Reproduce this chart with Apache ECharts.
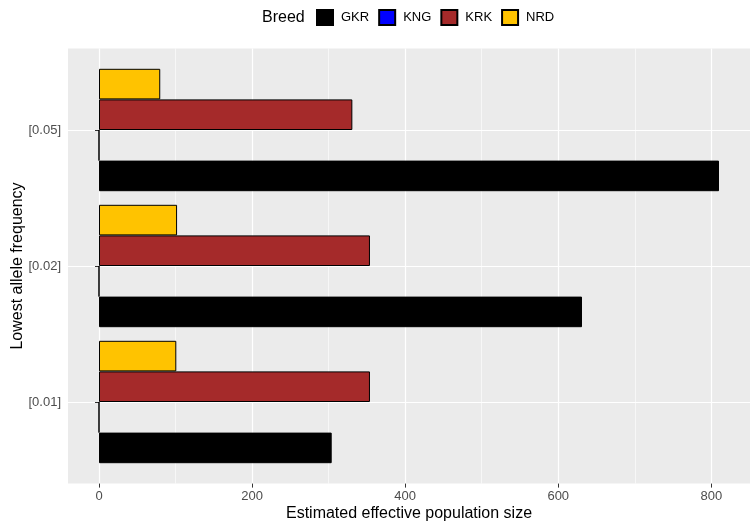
<!DOCTYPE html>
<html><head><meta charset="utf-8">
<script src="https://cdn.jsdelivr.net/npm/echarts@6/dist/echarts.min.js"></script>
<style>html,body{margin:0;padding:0;background:#fff}#c{width:750px;height:527px}</style>
</head><body><div id="c"></div>
<script>
const categories = ['[0.01]', '[0.02]', '[0.05]'];
const breeds = ['GKR', 'KNG', 'KRK', 'NRD'];
const gkr = [304, 631, 810];
const kng = [0, 0, 0];
const krk = [354, 354, 331];
const nrd = [101, 102, 80];
const xTicks = [0, 200, 400, 600, 800];
const xMinor = [100, 300, 500, 700];
const colors = ['#000000', '#0000FF', '#A52A2A', '#FFC300'];
const values = [gkr, kng, krk, nrd];

const FONT = 'Liberation Sans, Arial, sans-serif';
const XMIN = -40.5, XMAX = 850.5;

const chart = echarts.init(document.getElementById('c'), null, {renderer: 'canvas'});

// ECharts stacks horizontal bar series top-down, so add them in reverse to put GKR at the bottom
const barSeries = breeds.map((b, i) => ({
  name: b,
  type: 'bar',
  xAxisIndex: 1,
  yAxisIndex: 1,
  data: values[i],
  barGap: '0%',
  barCategoryGap: '10%',
  itemStyle: {color: colors[i], borderColor: '#000', borderWidth: 1},
  emphasis: {disabled: true},
  z: 3
})).reverse();

const option = {
  animation: false,
  textStyle: {fontFamily: FONT},
  title: {
    text: 'Breed', left: 262, top: 10, padding: 0,
    textStyle: {fontSize: 16, fontWeight: 'normal', color: '#000', fontFamily: FONT}
  },
  legend: {
    data: breeds, left: 316, top: 9, padding: 0,
    itemWidth: 16, itemHeight: 15, itemGap: 9, icon: 'rect',
    textStyle: {fontSize: 13, color: '#000', fontFamily: FONT, padding: [0, 0, 0, 3]}
  },
  grid: [
    {left: 68, right: 0, top: 48.4, bottom: 43.4, backgroundColor: '#EBEBEB', show: true, borderWidth: 0,
      outerBoundsMode: 'none', containLabel: false},
    {left: 68, right: 0, top: 62, bottom: 57, outerBoundsMode: 'none', containLabel: false}
  ],
  xAxis: [
    {
      type: 'value', gridIndex: 0, min: XMIN, max: XMAX, splitNumber: 5,
      name: 'Estimated effective population size', nameLocation: 'middle', nameGap: 22,
      nameMoveOverlap: false,
      nameTextStyle: {fontSize: 16, color: '#000', fontFamily: FONT},
      axisLine: {show: false},
      axisTick: {show: true, customValues: xTicks, length: 4, lineStyle: {color: '#333', width: 1}},
      axisLabel: {customValues: xTicks, color: '#4D4D4D', fontSize: 13, margin: 6, fontFamily: FONT,
        formatter: v => String(v)},
      splitLine: {show: true, lineStyle: {color: '#FFFFFF', width: 1.2}}
    },
    {
      type: 'value', gridIndex: 1, min: XMIN, max: XMAX, show: false,
      splitLine: {show: false}
    }
  ],
  yAxis: [
    {
      type: 'value', gridIndex: 0, min: 0.4, max: 3.6, splitNumber: 3,
      name: 'Lowest allele frequency', nameLocation: 'middle', nameGap: 42,
      nameMoveOverlap: false,
      nameTextStyle: {fontSize: 16, color: '#000', fontFamily: FONT},
      axisLine: {show: false},
      axisTick: {show: true, customValues: [1, 2, 3], length: 4, lineStyle: {color: '#333', width: 1}},
      axisLabel: {customValues: [1, 2, 3], color: '#4D4D4D', fontSize: 13, margin: 7, fontFamily: FONT,
        formatter: v => categories[Math.round(v) - 1] || ''},
      splitLine: {show: true, lineStyle: {color: '#FFFFFF', width: 1.2}}
    },
    {
      type: 'category', gridIndex: 1, data: categories, show: false, boundaryGap: true
    }
  ],
  series: [
    {
      type: 'line', xAxisIndex: 0, yAxisIndex: 0, data: [], silent: true, z: 1,
      markLine: {
        silent: true, symbol: 'none', label: {show: false}, animation: false, z: 1,
        lineStyle: {color: '#FFFFFF', width: 0.6, type: 'solid'},
        emphasis: {disabled: true},
        data: xMinor.map(v => ({xAxis: v}))
      }
    }
  ].concat(barSeries)
};
chart.setOption(option);
</script>
</body></html>
